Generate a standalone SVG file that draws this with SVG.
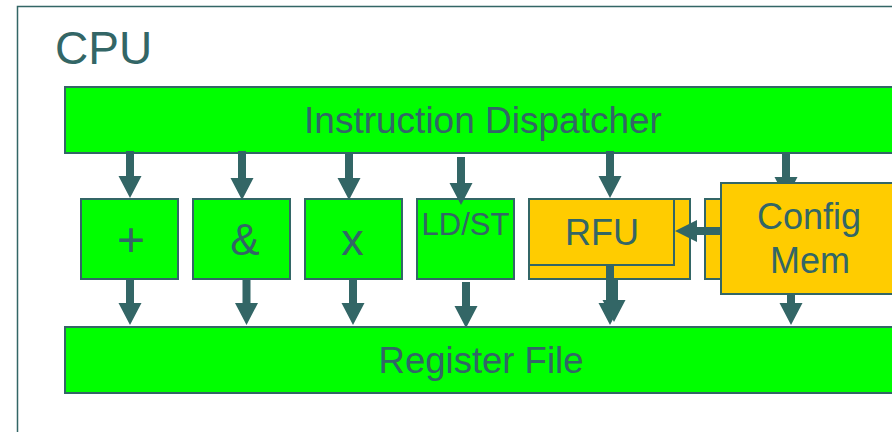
<svg xmlns="http://www.w3.org/2000/svg" width="892" height="432" viewBox="0 0 892 432">
  <style>
    .g { fill: #00FF00; stroke: #336666; stroke-width: 2; }
    .y { fill: #FFCC00; stroke: #336666; stroke-width: 2; }
    .t { font-family: "Liberation Sans", Arial, sans-serif; fill: #336666; text-anchor: middle; }
    .arr { fill: #336666; }
  </style>
  <rect id="cpu" x="17.5" y="6.5" width="900" height="500" fill="#FFFFFF" stroke="#336666" stroke-width="1.5"/>
  <text class="t" x="55" y="64" font-size="46" style="text-anchor:start">CPU</text>

  <g id="connectors-under">
    <path class="arr" d="M782,151 H790 V177 H797.5 L786,199 L774.5,177 H782 Z"/>
  </g>

  <g id="dispatcher">
    <rect class="g" x="65" y="87" width="850" height="66"/>
    <text class="t" x="483" y="133" font-size="37">Instruction Dispatcher</text>
  </g>
  <g id="regfile">
    <rect class="g" x="65" y="327" width="850" height="66"/>
    <text class="t" x="481" y="373" font-size="36.5">Register File</text>
  </g>
  <g id="add">
    <rect class="g" x="81" y="199" width="97" height="80"/>
    <text class="t" x="131" y="256" font-size="48">+</text>
  </g>
  <g id="and">
    <rect class="g" x="193" y="199" width="97" height="80"/>
    <text class="t" x="245" y="255" font-size="44">&amp;</text>
  </g>
  <g id="mul">
    <rect class="g" x="305" y="199" width="97" height="80"/>
    <text class="t" x="352.5" y="255" font-size="45">x</text>
  </g>
  <g id="ldst">
    <rect class="g" x="417" y="199" width="97" height="80"/>
    <text class="t" x="465.5" y="235" font-size="31">LD/ST</text>
  </g>
  <g id="rfu">
    <rect class="y" x="529" y="199" width="161" height="80"/>
    <rect class="y" x="529" y="199" width="145" height="66"/>
    <text class="t" x="602" y="245" font-size="36">RFU</text>
  </g>
  <g id="configmem">
    <rect class="y" x="705" y="199" width="40" height="80"/>
    <rect class="y" x="721" y="183" width="200" height="111"/>
    <text class="t" x="809" y="229" font-size="36">Config</text>
    <text class="t" x="810" y="273" font-size="36">Mem</text>
  </g>

  <g id="connectors">
    <path class="arr" d="M126,151 H134 V176 H141.5 L130,198 L118.5,176 H126 Z"/>
    <path class="arr" d="M238,151 H246 V178 H253.5 L242,200 L230.5,178 H238 Z"/>
    <path class="arr" d="M345,153 H353 V178 H360.5 L349,200 L337.5,178 H345 Z"/>
    <path class="arr" d="M457,157 H465 V183 H472.5 L461,205 L449.5,183 H457 Z"/>
    <path class="arr" d="M606,151 H614 V176 H621.5 L610,198 L598.5,176 H606 Z"/>

    <path class="arr" d="M126,279 H134 V303 H141.5 L130,325 L118.5,303 H126 Z"/>
    <path class="arr" d="M242.5,279 H250.5 V303 H258 L246.5,325 L235,303 H242.5 Z"/>
    <path class="arr" d="M349,279 H357 V303 H364.5 L353,325 L341.5,303 H349 Z"/>
    <path class="arr" d="M462,282 H470 V306 H477.5 L466,328 L454.5,306 H462 Z"/>
    <path class="arr" d="M606,265 H614 V303 H621.5 L610,325 L598.5,303 H606 Z"/>
    <path class="arr" d="M610,279 H618 V300 H625.5 L614,322 L602.5,300 H610 Z"/>
    <path class="arr" d="M787,294 H795 V303 H802.5 L791,325 L779.5,303 H787 Z"/>

    <path class="arr" d="M721,227 V235 H697 V242 L675,231 L697,220 V227 Z"/>
  </g>
</svg>
